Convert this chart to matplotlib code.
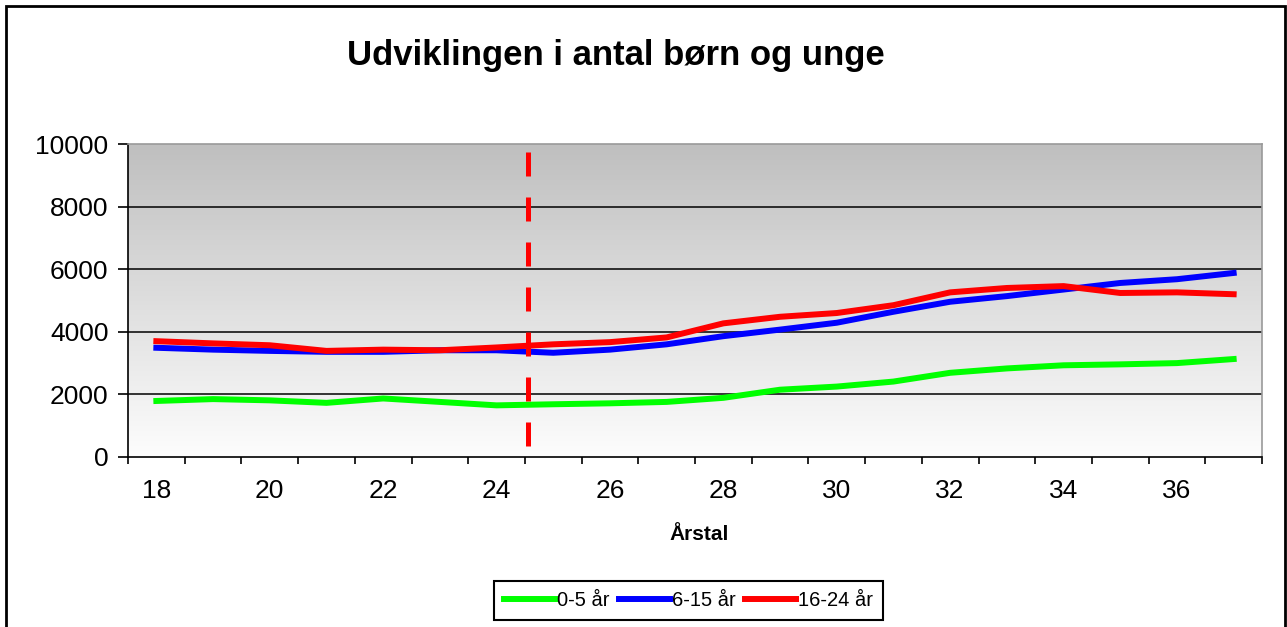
import numpy as np
import matplotlib.pyplot as plt
from matplotlib.patches import Rectangle

plt.rcParams['font.family'] = ['Liberation Sans', 'DejaVu Sans']

# data
years = list(range(18, 38))
tick_years = [18, 20, 22, 24, 26, 28, 30, 32, 34, 36]
age_0_5 = [1790, 1850, 1810, 1730, 1870, 1760, 1650, 1685, 1715, 1760,
           1890, 2150, 2250, 2410, 2690, 2830, 2930, 2960, 3000, 3130]
age_6_15 = [3490, 3430, 3390, 3360, 3360, 3410, 3410, 3330, 3430, 3600,
            3860, 4070, 4290, 4640, 4960, 5140, 5350, 5560, 5680, 5880]
age_16_24 = [3700, 3630, 3570, 3390, 3430, 3410, 3500, 3600, 3670, 3820,
             4270, 4480, 4600, 4850, 5260, 5400, 5460, 5240, 5260, 5200]
labels = ['0-5 år', '6-15 år', '16-24 år']
cut_year = 24.55

W, H = 1287, 627
fig = plt.figure(figsize=(W / 100, H / 100), dpi=100)

# outer chart frame
fig.patches.append(Rectangle((6 / W, -0.05), (1285 - 6) / W, 1.05 - 6 / H,
                             transform=fig.transFigure, fill=False,
                             edgecolor='black', linewidth=2))

ax = fig.add_axes([128 / W, 1 - 457 / H, (1262 - 128) / W, (457 - 144) / H])

# grey gradient background
grad = np.linspace(0, 1, 256).reshape(-1, 1)
ax.imshow(grad, cmap=plt.matplotlib.colors.LinearSegmentedColormap.from_list(
    'bg', ['#fdfdfd', '#bfbfbf']), origin='lower', aspect='auto',
    extent=[0, 1, 0, 1], transform=ax.transAxes, zorder=0)

for y in [2000, 4000, 6000, 8000]:
    ax.axhline(y, color='black', linewidth=1.1, zorder=1)

ax.plot(years, age_0_5, color='#00ff00', linewidth=4.3, label=labels[0], zorder=3)
ax.plot(years, age_6_15, color='#0000ff', linewidth=4.3, label=labels[1], zorder=3)
ax.plot(years, age_16_24, color='#ff0000', linewidth=4.3, label=labels[2], zorder=4)

ax.plot([cut_year, cut_year], [9750, 0], color='#ff0000', linewidth=3.6,
        dashes=(4.8, 4.2), zorder=5)

ax.set_xlim(17.5, 37.5)
ax.set_ylim(0, 10000)
ax.set_yticks([0, 2000, 4000, 6000, 8000, 10000])
ax.set_xticks(np.arange(17.5, 38, 1))
ax.set_xticklabels([])
ax.set_xticks(tick_years, minor=True)
ax.set_xticklabels([str(t) for t in tick_years], minor=True)
ax.tick_params(axis='x', which='major', direction='out', length=5, width=1.2)
ax.tick_params(axis='x', which='minor', length=0, labelsize=19, pad=16)
ax.tick_params(axis='y', direction='out', length=7, width=1.2, labelsize=19, pad=7)

for s in ['left', 'bottom']:
    ax.spines[s].set_color('black')
    ax.spines[s].set_linewidth(1.2)
for s in ['top', 'right']:
    ax.spines[s].set_color('#999999')
    ax.spines[s].set_linewidth(1.2)

fig.text(616 / W, 1 - 55 / H, 'Udviklingen i antal børn og unge',
         ha='center', va='center', fontsize=25, fontweight='bold')
fig.text(699 / W, 1 - 535 / H, 'Årstal', ha='center', va='center',
         fontsize=15, fontweight='bold')

leg = fig.legend(loc='center', bbox_to_anchor=(688.5 / W, 1 - 600.5 / H),
                 ncol=3, fontsize=14.5, handlelength=2.5, handletextpad=0.1,
                 columnspacing=0.5, borderpad=0.5, fancybox=False,
                 framealpha=1)
leg.get_frame().set_edgecolor('black')
leg.get_frame().set_linewidth(1.5)

fig.savefig('out.png', dpi=100)
